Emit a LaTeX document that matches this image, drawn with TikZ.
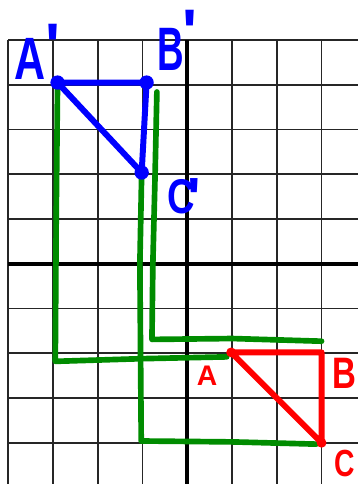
\documentclass[tikz,border=0pt]{standalone}
\usepackage{fontspec}
\newfontfamily\hand{Liberation Sans}
\newcommand{\pr}{\raisebox{-0.46em}[0.28em][0pt]{'}}
\begin{document}
\begin{tikzpicture}[x=1cm,y=1cm,
  gridline/.style={draw=black!85,line width=1.1pt},
  axisline/.style={draw=black,line width=2.6pt},
  bluepen/.style={draw={rgb,255:red,0;green,0;blue,255},line width=3.8pt,line cap=round,line join=round},
  redpen/.style={draw={rgb,255:red,255;green,0;blue,0},line width=3.8pt,line cap=round,line join=round},
  greenpen/.style={draw={rgb,255:red,0;green,140;blue,0},line width=3.6pt,line cap=round,line join=round},
  bluelbl/.style={text={rgb,255:red,0;green,0;blue,255},inner sep=0pt},
  redlbl/.style={text={rgb,255:red,255;green,0;blue,0},inner sep=0pt}]
\useasboundingbox (-4.186,-4.921) rectangle (3.814,5.895);
\begin{scope}
\clip (-4.186,-4.921) rectangle (3.814,5.895);
% grid
\foreach \x in {-4,-3,-2,-1,1,2,3} \draw[gridline] (\x,5) -- (\x,-5);
\foreach \y in {5,4,3,2,1,-1,-2,-3,-4} \draw[gridline] (-4,\y) -- (4,\y);
\draw[axisline] (0,5) -- (0,-5);
\draw[axisline] (-4,0) -- (4,0);
\end{scope}
% vertices
\coordinate (A) at (0.98,-1.98);
\coordinate (B) at (3.0,-1.98);
\coordinate (C) at (3.0,-4.0);
\coordinate (Ap) at (-2.9,4.05);
\coordinate (Bp) at (-0.91,4.05);
\coordinate (Cp) at (-1.02,2.04);
% green translation paths
\coordinate (g1a) at (-2.95,-2.18);
\coordinate (g1b) at (0.88,-2.08);
\coordinate (g2a) at (-1.03,-3.96);
\coordinate (g2b) at (2.88,-4.03);
\coordinate (g3s) at (-0.68,3.84);
\coordinate (g3a) at (-0.79,-1.69);
\coordinate (g3b) at (3.0,-1.73);
\draw[greenpen] (Ap) -- (-2.93,1) -- (g1a) -- (-1,-2.12) -- (g1b);
\draw[greenpen] (Cp) -- (-1.06,0) -- (g2a) -- (1,-3.98) -- (g2b);
\draw[greenpen] (g3s) -- (-0.72,2) -- (-0.77,0) -- (g3a) -- (1,-1.67) -- (g3b);
% red triangle
\draw[redpen] (A) -- (B) -- (C) -- cycle;
\fill[red] (A) circle (0.11);
\fill[red] (C) circle (0.11);
% blue triangle
\draw[bluepen] (Ap) -- (Bp) -- (Cp) -- cycle;
\fill[blue] (Ap) circle (0.16);
\fill[blue] (Bp) circle (0.16);
\fill[blue] (Cp) circle (0.16);
% labels
\node[bluelbl,font=\hand\bfseries\fontsize{38}{38}\selectfont] (lAp) at (-3.52,4.58) {\scalebox{0.72}[1]{A}};
\node[bluelbl,font=\hand\bfseries\fontsize{40}{40}\selectfont,anchor=north] (pAp) at (-3.0,5.44) {\pr};
\node[bluelbl,font=\hand\bfseries\fontsize{39}{39}\selectfont] (lBp) at (-0.36,4.8) {\scalebox{0.6}[1]{B}};
\node[bluelbl,font=\hand\bfseries\fontsize{40}{40}\selectfont,anchor=north] (pBp) at (0.06,5.74) {\pr};
\node[bluelbl,font=\hand\bfseries\fontsize{31}{31}\selectfont] (lCp) at (-0.14,1.51) {\scalebox{0.78}[1]{C}};
\node[bluelbl,font=\hand\bfseries\fontsize{36}{36}\selectfont,anchor=north] (pCp) at (0.16,1.98) {\pr};
\node[redlbl,font=\hand\bfseries\fontsize{18}{18}\selectfont] (lA) at (0.44,-2.51) {A};
\node[redlbl,font=\hand\bfseries\fontsize{28}{28}\selectfont] (lB) at (3.52,-2.44) {\scalebox{0.75}[1]{B}};
\node[redlbl,font=\hand\bfseries\fontsize{24}{24}\selectfont] (lC) at (3.52,-4.47) {\scalebox{0.75}[1]{C}};
\end{tikzpicture}
\end{document}
